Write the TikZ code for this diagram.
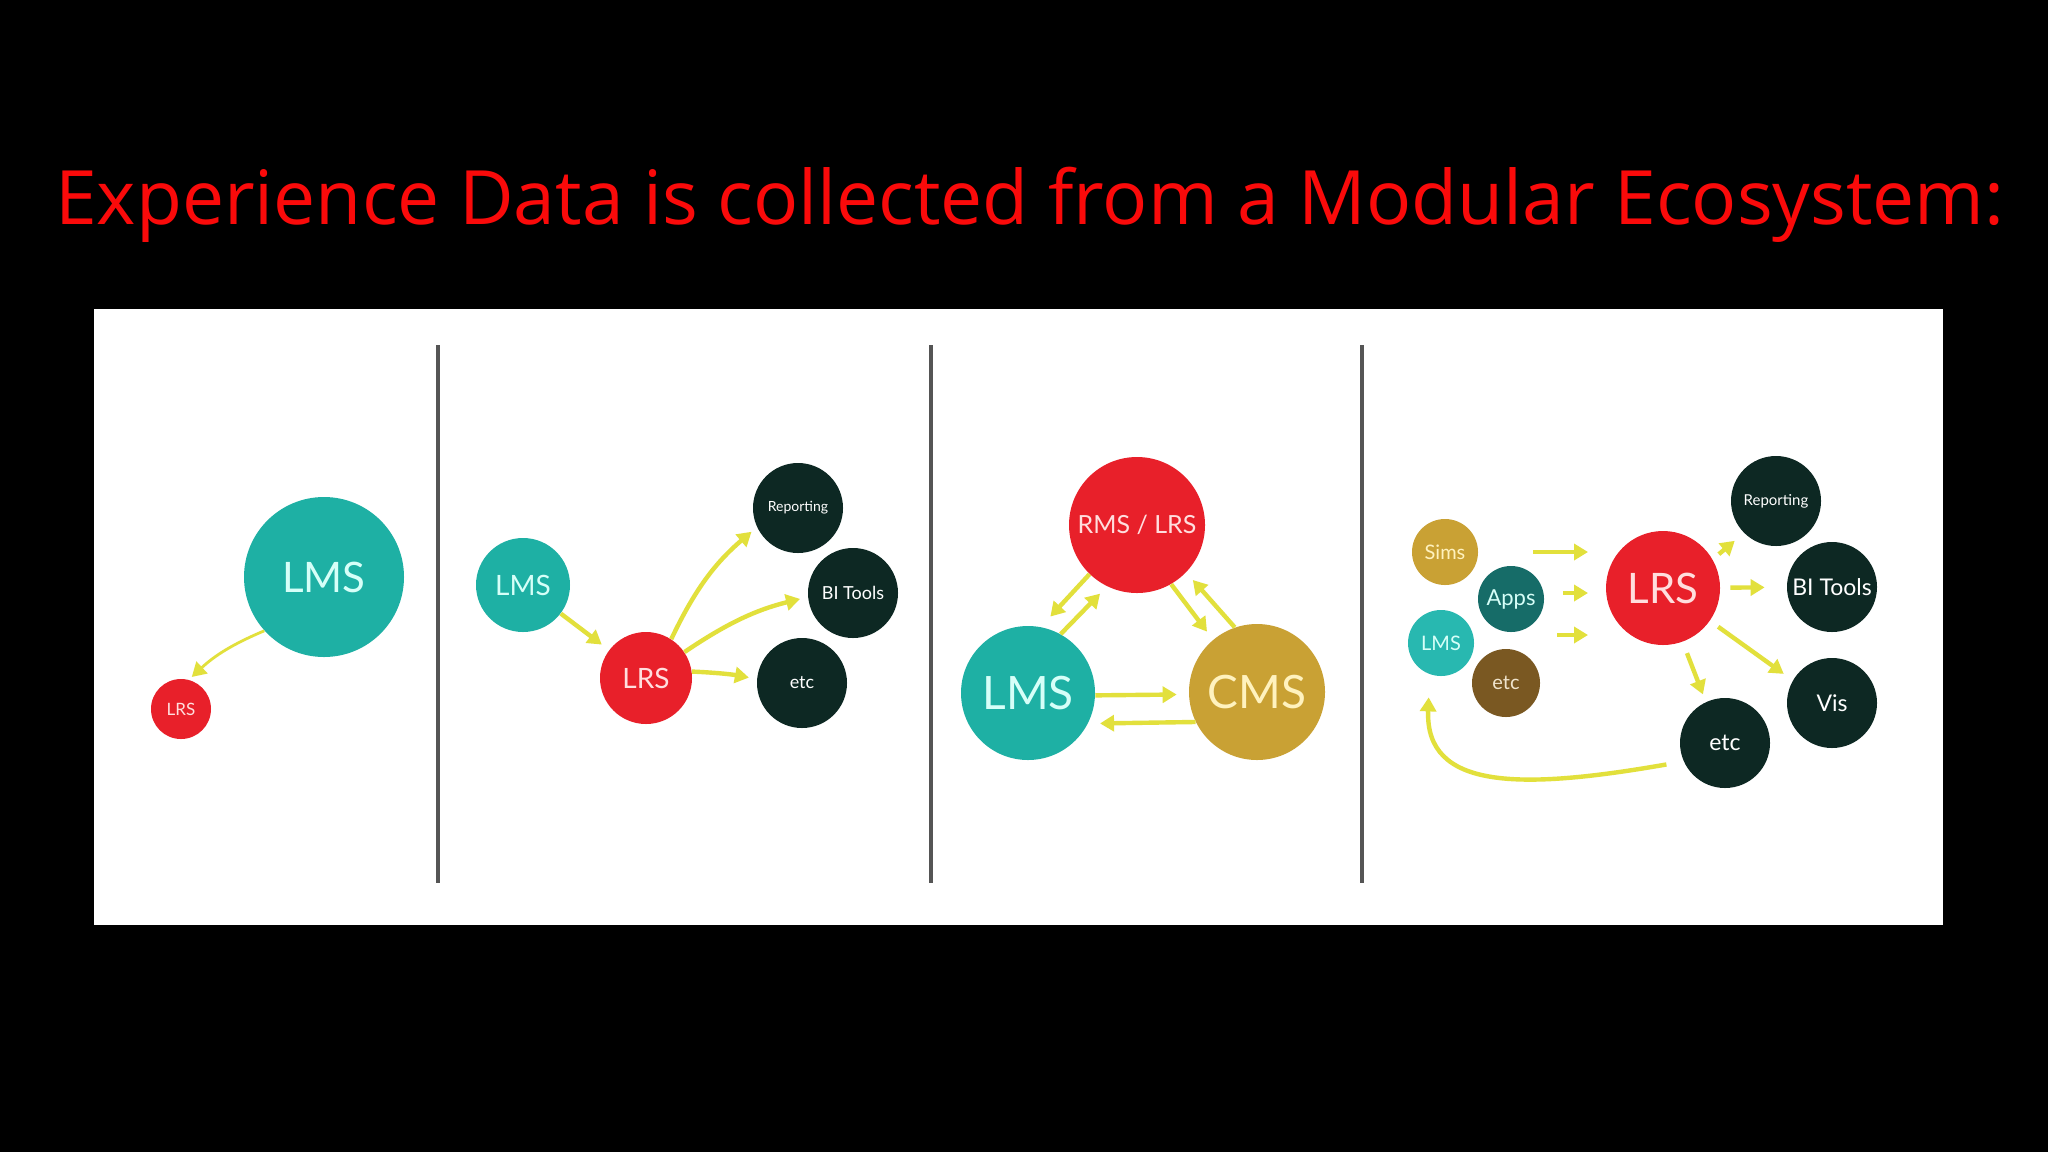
\documentclass[tikz,border=0pt]{standalone}
\usepackage{fontspec}
\newfontfamily\lato{Lato}
\newfontfamily\titlefont{Open Sans}
\usetikzlibrary{arrows.meta}
\definecolor{teal1}{RGB}{30,176,164}
\definecolor{teal2}{RGB}{40,184,176}
\definecolor{tealtxt}{RGB}{214,255,248}
\definecolor{red1}{RGB}{232,32,42}
\definecolor{redtxt}{RGB}{255,222,222}
\definecolor{dark1}{RGB}{13,40,35}
\definecolor{gold1}{RGB}{201,161,52}
\definecolor{goldtxt}{RGB}{255,242,190}
\definecolor{apps1}{RGB}{22,108,104}
\definecolor{brown1}{RGB}{122,88,34}
\definecolor{browntxt}{RGB}{240,228,205}
\definecolor{arrowc}{RGB}{226,224,60}
\definecolor{divc}{RGB}{85,85,85}
\definecolor{titlered}{RGB}{250,10,10}
\tikzset{
  bub/.style={circle, inner sep=0pt, text=white},
  flow/.style={draw=arrowc, line width=2.2pt, -{Triangle[length=7pt,width=8pt]}},
  divider/.style={draw=divc, line width=2pt},
}
\newcommand{\fs}[1]{\lato\fontsize{#1}{#1}\selectfont}
\begin{document}
\begin{tikzpicture}[x=0.5pt,y=-0.5pt]
\fill[black] (0,0) rectangle (2048,1152);
\useasboundingbox (0,0) rectangle (2048,1152);
\node[anchor=base, text=titlered, font=\titlefont\fontsize{37.5}{37.5}\selectfont, inner sep=0pt] (title) at (1030,224) {Experience Data is collected from a Modular Ecosystem:};
\fill[white] (94,309) rectangle (1943,925);
\draw[divider] (438,345) -- (438,883);
\draw[divider] (931,345) -- (931,883);
\draw[divider] (1362,345) -- (1362,883);

% Panel 1
\node[bub, fill=teal1, text=tealtxt, minimum size=80pt, font=\fs{21pt}] (lms1) at (324,577) {LMS};
\node[bub, fill=red1, text=redtxt, minimum size=30pt, font=\fs{8.5pt}] (lrs1) at (181,709) {LRS};
\draw[flow, line width=1.4pt, shorten >=2pt] (lms1.222) to[bend right=10] (lrs1.75);

% Panel 2
\node[bub, fill=teal1, text=tealtxt, minimum size=47pt, font=\fs{14pt}] (lms2) at (523,585) {LMS};
\node[bub, fill=red1, text=redtxt, minimum size=46pt, font=\fs{14pt}] (lrs2) at (646,678) {LRS};
\node[bub, fill=dark1, minimum size=45pt, font=\fs{7pt}] (rep2) at (798,508) {Reporting};
\node[bub, fill=dark1, minimum size=45pt, font=\fs{9pt}] (bi2) at (853,593) {BI Tools};
\node[bub, fill=dark1, minimum size=45pt, font=\fs{9pt}] (etc2) at (802,683) {etc};
\draw[flow, shorten >=4.5pt] (lms2) -- (lrs2);
\draw[flow, shorten >=3.5pt] (lrs2.57) to[bend left=12] (rep2.205);
\draw[flow, shorten >=4pt] (lrs2.34) to[bend left=10] (bi2.185);
\draw[flow, shorten >=4pt] (lrs2.8) to[bend left=4] (etc2.175);

% Panel 3
\node[bub, fill=red1, text=redtxt, minimum size=68pt, font=\fs{12.5pt}] (rms3) at (1137,525) {RMS / LRS};
\node[bub, fill=teal1, text=tealtxt, minimum size=67pt, font=\fs{23pt}] (lms3) at (1028,693) {LMS};
\node[bub, fill=gold1, text=goldtxt, minimum size=68pt, font=\fs{23pt}] (cms3) at (1257,692) {CMS};
\draw[flow, shorten >=7pt] (rms3.226) -- (lms3.79);
\draw[flow, shorten >=5pt] (lms3.61) -- (rms3.244);
\draw[flow, shorten >=5pt] (rms3.300) -- (cms3.130);
\draw[flow, shorten >=5pt] (cms3.109) -- (rms3.316);
\draw[flow, shorten >=6pt] (lms3.358) -- (cms3.182);
\draw[flow, shorten >=6pt] (cms3.206) -- (lms3.333);

% Panel 4
\node[bub, fill=gold1, text=goldtxt, minimum size=33pt, font=\fs{10pt}] (sims4) at (1445,552) {Sims};
\node[bub, fill=apps1, text=tealtxt, minimum size=33pt, font=\fs{11pt}] (apps4) at (1511,599) {Apps};
\node[bub, fill=teal2, text=tealtxt, minimum size=33pt, font=\fs{10pt}] (lms4) at (1441,643) {LMS};
\node[bub, fill=brown1, text=browntxt, minimum size=34pt, font=\fs{10pt}] (etcb4) at (1506,683) {etc};
\node[bub, fill=red1, text=redtxt, minimum size=57pt, font=\fs{21pt}] (lrs4) at (1663,588) {LRS};
\node[bub, fill=dark1, minimum size=45pt, font=\fs{7.5pt}] (rep4) at (1776,501) {Reporting};
\node[bub, fill=dark1, minimum size=45pt, font=\fs{11.5pt}] (bi4) at (1832,587) {BI Tools};
\node[bub, fill=dark1, minimum size=45pt, font=\fs{11.5pt}] (vis4) at (1832,703) {Vis};
\node[bub, fill=dark1, minimum size=45pt, font=\fs{11.5pt}] (etc4) at (1725,743) {etc};
\coordinate (a1s) at (1533,552); \coordinate (a1e) at (1588,552);
\coordinate (a2s) at (1563,593); \coordinate (a2e) at (1588,593);
\coordinate (a3s) at (1557,635); \coordinate (a3e) at (1588,635);
\draw[flow] (a1s) -- (a1e);
\draw[flow] (a2s) -- (a2e);
\draw[flow] (a3s) -- (a3e);
\draw[flow, shorten <=4pt, shorten >=6pt] (lrs4.30) -- (rep4.225);
\draw[flow, shorten <=5pt, shorten >=11pt] (lrs4) -- (bi4);
\draw[flow, shorten <=5pt, shorten >=5.5pt] (lrs4.-35) -- (vis4.150);
\draw[flow, shorten <=6pt, shorten >=4pt] (lrs4.-70) -- (etc4.115);
\draw[flow, shorten <=8.7pt, shorten >=11.5pt] (etc4.204) .. controls (1520,790) and (1425,790) .. (lms4.250);
\end{tikzpicture}
\end{document}
